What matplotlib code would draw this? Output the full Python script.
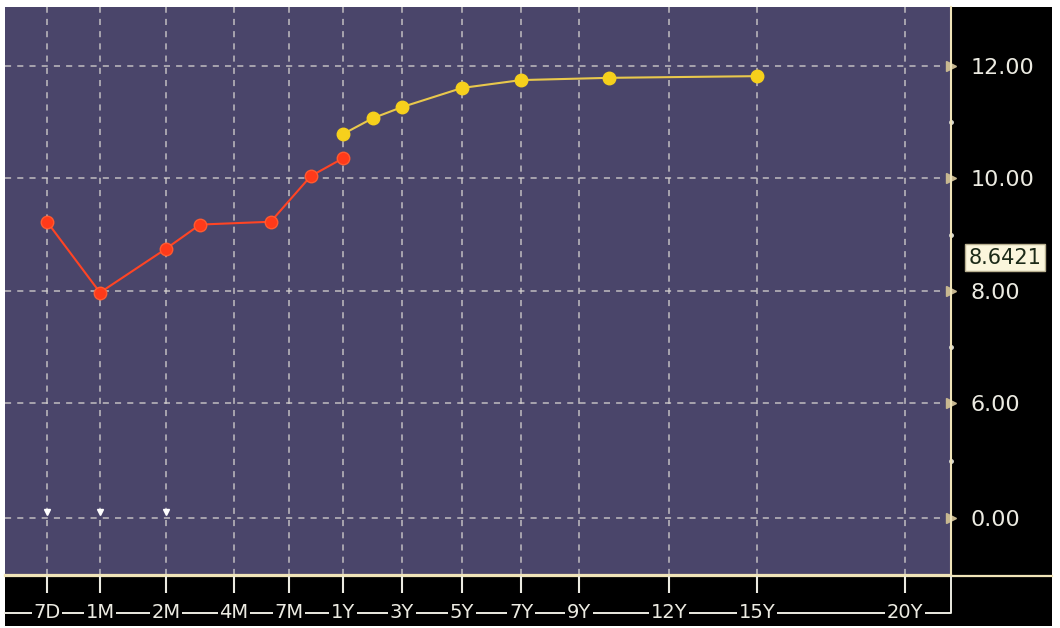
import numpy as np
import matplotlib.pyplot as plt
from matplotlib.transforms import blended_transform_factory

# tenors (years) and rates
tick_labels = ["7D", "1M", "2M", "4M", "7M", "1Y", "3Y", "5Y", "7Y", "9Y", "12Y", "15Y", "20Y"]
tick_tenors = [7/365, 1/12, 2/12, 4/12, 7/12, 1, 3, 5, 7, 9, 12, 15, 20]

short_tenors = [7/365, 1/12, 2/12, 3/12, 6/12, 9/12, 1]
short_rates = [9.23, 7.97, 8.75, 9.18, 9.23, 10.04, 10.36]

long_tenors = [1, 2, 3, 5, 7, 10, 15]
long_rates = [10.79, 11.07, 11.27, 11.61, 11.75, 11.79, 11.82]

mark_tenors = [7/365, 1/12, 2/12]
mark_vals = [0.3, 0.3, 0.3]

y_ticks = [0, 6, 8, 10, 12]
y_minor = [3, 7, 9, 11]
last_value = 8.6421

cream = "#f0e4b8"
txt = "#ecebe2"
plt.rcParams["font.family"] = ["DejaVu Sans"]

# x axis: uneven tenor slots (screen units)
slot_t = [0] + tick_tenors + [25]
slot_u = [5, 47, 100, 166, 234, 289, 343, 402, 462, 521, 579, 669, 757, 905, 1053]
def fx(t): return np.interp(t, slot_t, slot_u)
def fx_inv(u): return np.interp(u, slot_u, slot_t)

# y axis: 0..6 compressed into one grid step
yk = 19/56
def fy(v): return np.interp(v, [-10, 6, 30], [6 - 16*yk, 6, 30])
def fy_inv(u): return np.interp(u, [6 - 16*yk, 6, 30], [-10, 6, 30])

fig = plt.figure(figsize=(10.6, 6.28), dpi=100, facecolor="white")

# black frame (pixel coordinates)
bg = fig.add_axes([0, 0, 1, 1])
bg.set_xlim(0, 1060); bg.set_ylim(628, 0); bg.axis("off")
bg.add_patch(plt.Rectangle((5, 7), 1047, 619, facecolor="black", edgecolor="none"))
bg.plot([5, 1052], [576, 576], color=cream, lw=1.6)
bg.plot([5, 951, 951], [613, 613, 576], color=txt, lw=1.4)

ax = fig.add_axes([5/1060, 1 - 575/628, 946/1060, 568/628])
ax.set_facecolor("#4a456a")
ax.set_xscale("function", functions=(fx, fx_inv))
ax.set_yscale("function", functions=(fy, fy_inv))
ax.set_xlim(0, 21.55)
ax.set_ylim(-3.0, 13.05)

ax.grid(True, color="#d6d2d0", linestyle=(0, (4, 4)), linewidth=1.1, alpha=0.85)

ax.plot(short_tenors, short_rates, color="#ff4424", lw=1.5, marker="o", ms=9,
        mfc="#ff3a1a", mec="#ff5a30", zorder=3)
ax.plot(long_tenors, long_rates, color="#e9c84c", lw=1.5, marker="o", ms=9,
        mfc="#f6d01c", mec="#f6d01c", zorder=3)
ax.plot(mark_tenors, mark_vals, "v", color="white", ms=5, ls="none", zorder=3)

# y axis on the right
ax.yaxis.tick_right()
ax.set_yticks(y_ticks, [f"{v:.2f}" for v in y_ticks])
ax.set_yticks([], minor=True)
ax.tick_params(axis="y", length=0, pad=14, labelsize=16, labelcolor=txt)
tr = blended_transform_factory(ax.transAxes, ax.transData)
ax.plot(np.ones(len(y_ticks)), y_ticks, ">", color="#c8b890", ms=7, transform=tr, clip_on=False)
ax.plot(np.ones(len(y_minor)), y_minor, "o", color="#d8d8d0", ms=2.5, transform=tr, clip_on=False)

# x axis labels in the bottom strip
ax.set_xticks(tick_tenors, tick_labels)
ax.set_xticks([], minor=True)
ax.tick_params(axis="x", direction="out", length=13, width=1.5, color=txt,
               pad=7, labelsize=14, labelcolor=txt)
for lbl in ax.get_xticklabels():
    lbl.set_bbox(dict(facecolor="black", edgecolor="none", pad=1.2))

for s in ["left", "top"]:
    ax.spines[s].set_visible(False)
ax.spines["right"].set_color(cream)
ax.spines["right"].set_linewidth(1.5)
ax.spines["bottom"].set_color(cream)
ax.spines["bottom"].set_linewidth(1.6)

# current value tag
ax.text(1.019, last_value - 0.05, f"{last_value:.4f}", transform=tr, ha="left", va="center",
        fontsize=15, color="#1c2a18", clip_on=False,
        bbox=dict(facecolor="#fbf6dc", edgecolor="#b8b090", pad=2.5))

fig.savefig("out.png", dpi=100, facecolor="white")
